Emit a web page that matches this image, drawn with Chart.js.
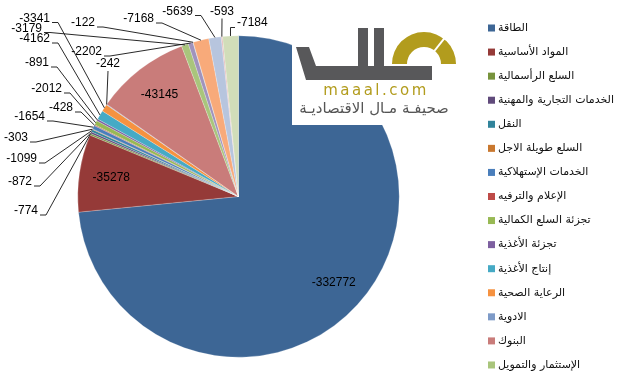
<!DOCTYPE html>
<html lang="ar">

<head>
    <meta charset="UTF-8">
    <title>صافي التداول حسب القطاع</title>
    <script src="https://cdn.jsdelivr.net/npm/chart.js"></script>
    <style>
        body {
            margin: 0;
            background: #fff;
        }

        #wrap {
            width: 622px;
            height: 392px;
        }
    </style>
</head>

<body>
    <div id="wrap"><canvas id="sektorChart"></canvas></div>

    <script>
        const sectors = [
            'الطاقة', 'المواد الأساسية', 'السلع الرأسمالية', 'الخدمات التجارية والمهنية', 'النقل',
            'السلع طويلة الاجل', 'الخدمات الإستهلاكية', 'الإعلام والترفيه', 'تجزئة السلع الكمالية',
            'تجزئة الأغذية', 'إنتاج الأغذية', 'الرعاية الصحية', 'الادوية', 'البنوك', 'الإستثمار والتمويل',
            'التأمين', 'التطبيقات وخدمات التقنية', 'الاتصالات', 'المرافق العامة',
            'الصناديق العقارية المتداولة', 'إدارة وتطوير العقارات'
        ];
        const values = [
            -332772, -35278, -774, -872, -1099, -303, -1654, -428, -2012, -891, -4162,
            -3341, -242, -43145, -3179, -2202, -122, -7168, -5639, -593, -7184
        ];
        const colors = [
            '#3d6695', '#953a38', '#77933c', '#604a7b', '#31849b', '#c9782f',
            '#4a7ebb', '#be4b48', '#98b954', '#7d60a0', '#46aac5', '#f69240',
            '#7e9bc8', '#c97c7a', '#a9c57c', '#a093bd', '#7cc3d8', '#f8aa7a',
            '#b7c5de', '#e2b6b5', '#d1ddb9'
        ];
        // the Excel legend only shows the first 15 sectors
        const legendCount = 15;

        // where the outside labels sit (x, y, side the leader line leaves from)
        const outerSpots = {
            2: [38, 211, 'r'], 3: [32, 182, 'r'], 4: [37, 159, 'r'], 5: [28, 138, 'r'],
            6: [45, 117, 'r'], 7: [73, 108, 'r'], 8: [62, 89, 'r'], 9: [49, 63, 'r'],
            10: [50, 39, 'r'], 11: [50, 18.5, 'r'], 12: [108, 64, 'b'], 14: [42, 28.5, 'r'],
            15: [102, 52, 'r'], 16: [95, 23, 'r'], 17: [154, 19, 'r'], 18: [193, 11.5, 'r'],
            19: [222, 11.5, 'b'], 20: [237, 22.5, 'l']
        };

        const numFont = '12px "Liberation Sans", Arial, sans-serif';

        const sliceLabels = {
            id: 'sliceLabels',
            afterDatasetsDraw(chart) {
                const ctx = chart.ctx;
                const arcs = chart.getDatasetMeta(0).data;
                ctx.save();
                ctx.font = numFont;
                ctx.fillStyle = '#000';
                ctx.strokeStyle = '#111';
                ctx.lineWidth = 0.9;
                ctx.textBaseline = 'middle';
                arcs.forEach((arc, i) => {
                    const p = arc.getProps(['x', 'y', 'startAngle', 'endAngle', 'outerRadius'], true);
                    const mid = (p.startAngle + p.endAngle) / 2;
                    const txt = String(values[i]);
                    const spot = outerSpots[i];
                    if (!spot) {
                        ctx.textAlign = 'center';
                        ctx.fillText(txt, p.x + Math.cos(mid) * p.outerRadius * 0.8, p.y + Math.sin(mid) * p.outerRadius * 0.8);
                        return;
                    }
                    const ex = p.x + Math.cos(mid) * p.outerRadius;
                    const ey = p.y + Math.sin(mid) * p.outerRadius;
                    const [lx, ly, side] = spot;
                    ctx.beginPath();
                    if (side === 'r') {
                        ctx.textAlign = 'right';
                        ctx.moveTo(lx + 2, ly + 4);
                        ctx.lineTo(lx + 8, ly + 4);
                    } else if (side === 'b') {
                        ctx.textAlign = 'center';
                        ctx.moveTo(lx, ly + 7);
                    } else {
                        ctx.textAlign = 'left';
                        ctx.moveTo(lx - 2, ly + 5);
                        ctx.lineTo(ex, ly + 5);
                    }
                    ctx.lineTo(ex, ey);
                    ctx.stroke();
                    ctx.fillText(txt, lx, ly);
                });
                ctx.restore();
            }
        };

        const sideLegend = {
            id: 'sideLegend',
            afterDraw(chart) {
                const ctx = chart.ctx;
                ctx.save();
                ctx.font = '11px "DejaVu Sans", sans-serif';
                ctx.textAlign = 'left';
                ctx.textBaseline = 'middle';
                for (let i = 0; i < legendCount; i++) {
                    const y = 28 + i * 24.07;
                    ctx.fillStyle = colors[i];
                    ctx.fillRect(488, y - 3.5, 7, 7);
                    ctx.fillStyle = '#111';
                    ctx.fillText(sectors[i], 498, y);
                }
                ctx.restore();
            }
        };

        // maaal logo pasted over the pie
        const logo = {
            id: 'logo',
            afterDraw(chart) {
                const ctx = chart.ctx;
                ctx.save();
                ctx.fillStyle = '#fff';
                ctx.fillRect(292, 22, 168, 103);
                ctx.fillStyle = '#58585a';
                ctx.beginPath();
                ctx.moveTo(296, 47);
                ctx.lineTo(309, 47);
                ctx.lineTo(316, 66);
                ctx.lineTo(432, 66);
                ctx.lineTo(432, 80);
                ctx.lineTo(306, 80);
                ctx.closePath();
                ctx.fill();
                ctx.fillRect(358, 28, 10, 40);
                ctx.fillRect(374, 28, 10, 40);
                ctx.fillStyle = '#b29c1d';
                ctx.beginPath();
                ctx.arc(424, 64, 32, Math.PI, 2 * Math.PI);
                ctx.arc(424, 64, 17, 2 * Math.PI, Math.PI, true);
                ctx.closePath();
                ctx.fill();
                // white cut in the gauge
                ctx.strokeStyle = '#fff';
                ctx.lineWidth = 2;
                ctx.beginPath();
                ctx.moveTo(424 + Math.cos(-0.9) * 15, 64 + Math.sin(-0.9) * 15);
                ctx.lineTo(424 + Math.cos(-0.9) * 34, 64 + Math.sin(-0.9) * 34);
                ctx.stroke();
                ctx.textAlign = 'center';
                ctx.textBaseline = 'middle';
                ctx.font = '15px "DejaVu Sans", sans-serif';
                ctx.letterSpacing = '2.5px';
                ctx.fillText('maaal.com', 376, 91);
                ctx.letterSpacing = '0px';
                ctx.fillStyle = '#555';
                ctx.font = '15px "DejaVu Sans", sans-serif';
                ctx.fillText('صحيفـة مـال الاقتصاديـة', 374, 109);
                ctx.restore();
            }
        };

        const ctx = document.getElementById('sektorChart').getContext('2d');
        const sektorChart = new Chart(ctx, {
            type: 'pie',
            data: {
                labels: sectors,
                datasets: [{
                    data: values,
                    backgroundColor: colors,
                    borderColor: 'rgba(255,255,255,0.45)',
                    borderWidth: 0.5
                }]
            },
            options: {
                responsive: true,
                maintainAspectRatio: false,
                animation: false,
                layout: {
                    padding: { left: 77.5, right: 222.5, top: 35.5, bottom: 34.5 }
                },
                plugins: {
                    legend: { display: false },
                    tooltip: { enabled: false }
                }
            },
            plugins: [sliceLabels, logo, sideLegend]
        });
    </script>

</body>

</html>
